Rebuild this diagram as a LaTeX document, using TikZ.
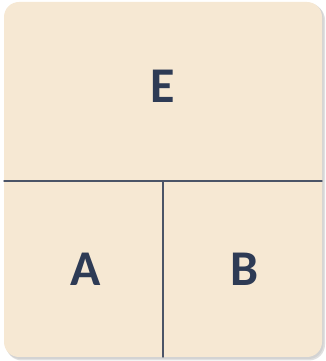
\documentclass[tikz,border=0pt]{standalone}
\usepackage{fontspec}
\setmainfont{Carlito}
\usepackage{xcolor}
\definecolor{panelfill}{HTML}{F6E8D3}
\definecolor{panelline}{HTML}{4B5467}
\definecolor{lettercol}{HTML}{2E3B55}
\tikzset{
  every picture/.style={line join=round, line cap=round},
  panel/.style={fill=panelfill, rounded corners=15pt},
  divider/.style={draw=panelline, line width=1.4pt},
  letter/.style={text=lettercol, font=\fontsize{50}{50}\selectfont\bfseries},
}

\begin{document}
\begin{tikzpicture}[x=1pt,y=1pt]
\useasboundingbox (0,0) rectangle (326,361);
\fill[black!35,opacity=0.35,rounded corners=16pt](6,0.5)rectangle(325,357);
\fill[black!25,opacity=0.4,rounded corners=15pt](5.5,2)rectangle(323.5,358);
\path[panel](4,4)rectangle(322,359);
\coordinate(l) at (4,180);
\coordinate(r) at (322,180);
\coordinate(m) at (163,180);
\coordinate(d) at (163,4);
\draw[divider](l)--(r);
\draw[divider](m)--(d);
\node[letter](e) at (163,275){E};
\node[letter](a) at (86,92){A};
\node[letter](b) at (245,92){B};
\end{tikzpicture}
\end{document}
